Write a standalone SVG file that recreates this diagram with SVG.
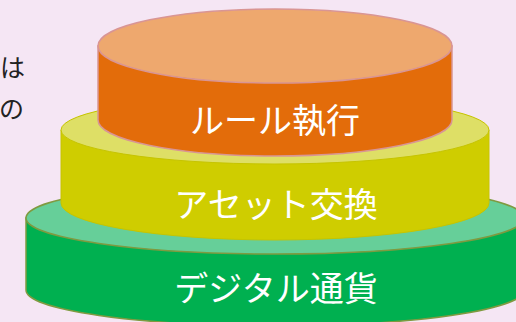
<svg xmlns="http://www.w3.org/2000/svg" width="516" height="322" viewBox="0 0 516 322">
<style>
.lbl{font-family:"Noto Sans CJK JP","Noto Sans CJK SC",sans-serif;font-size:34px;fill:#ffffff;text-anchor:middle}
.side{font-family:"Noto Sans CJK JP",sans-serif;font-size:25px;fill:#222222;text-anchor:start}
</style>
<rect width="516" height="322" fill="#f5e6f4"/>
<text class="side" x="0" y="77">は</text>
<text class="side" x="-1" y="118">の</text>
<g id="layer-digital">
<path d="M26,218 L26,290 A249,36 0 0 0 524,290 L524,218 Z" fill="#00b050" stroke="#7f9a40" stroke-width="1.5"/>
<ellipse cx="275" cy="218" rx="249" ry="36" fill="#66cf99" stroke="#7f9a40" stroke-width="1.5"/>
<text class="lbl" x="276" y="301">デジタル通貨</text>
</g>
<g id="layer-asset">
<path d="M61,130 L61,203 A214,37 0 0 0 489,203 L489,130 Z" fill="#cfcd00" stroke="#c6c400" stroke-width="1"/>
<ellipse cx="275" cy="130" rx="214" ry="34" fill="#dedf66" stroke="#c6c400" stroke-width="1"/>
<text class="lbl" x="276" y="217">アセット交換</text>
</g>
<g id="layer-rule">
<path d="M98,46 L98,120 A177,36 0 0 0 452,120 L452,46 Z" fill="#e36c0a" stroke="#d99594" stroke-width="1.5"/>
<ellipse cx="275" cy="46" rx="177" ry="37" fill="#eea86e" stroke="#d99594" stroke-width="1.5"/>
<text class="lbl" x="275" y="133">ルール執行</text>
</g>
<g id="connectors"/>
</svg>
